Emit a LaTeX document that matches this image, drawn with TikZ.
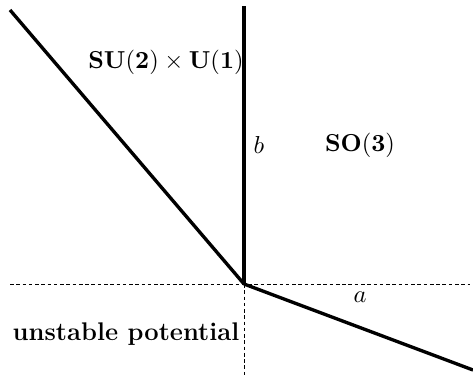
\documentclass[tikz,border=0pt]{standalone}
\usepackage{amsmath}
\usepackage{tikz}

\begin{document}
\begin{tikzpicture}[x=0.0157cm,y=-0.0157cm,
  every node/.style={font=\fontsize{11.4}{13}\selectfont}]
\useasboundingbox (0,0) rectangle (473,378);
\coordinate (o) at (244,284);
\coordinate (top) at (244,6);
\coordinate (ul) at (10,10);
\coordinate (lr) at (473,370);
\coordinate (xl) at (10,284);
\coordinate (xr) at (470,284);
\coordinate (yd) at (244,376);
\draw[line width=0.4pt,dash pattern=on 1.6pt off 1.2pt] (xl) -- (xr);
\draw[line width=0.4pt,dash pattern=on 1.6pt off 1.2pt] (o) -- (yd);
\draw[line width=1.5pt] (o) -- (top);
\draw[line width=1.5pt] (o) -- (ul);
\draw[line width=1.5pt] (o) -- (lr);
\node (su) at (166,62) {$\mathbf{SU(2)\times U(1)}$};
\node (b) at (259,145) {$b$};
\node (so) at (360,145) {$\mathbf{SO(3)}$};
\node (a) at (360,297) {$a$};
\node (unst) at (126,334) {\textbf{unstable potential}};
\end{tikzpicture}
\end{document}
